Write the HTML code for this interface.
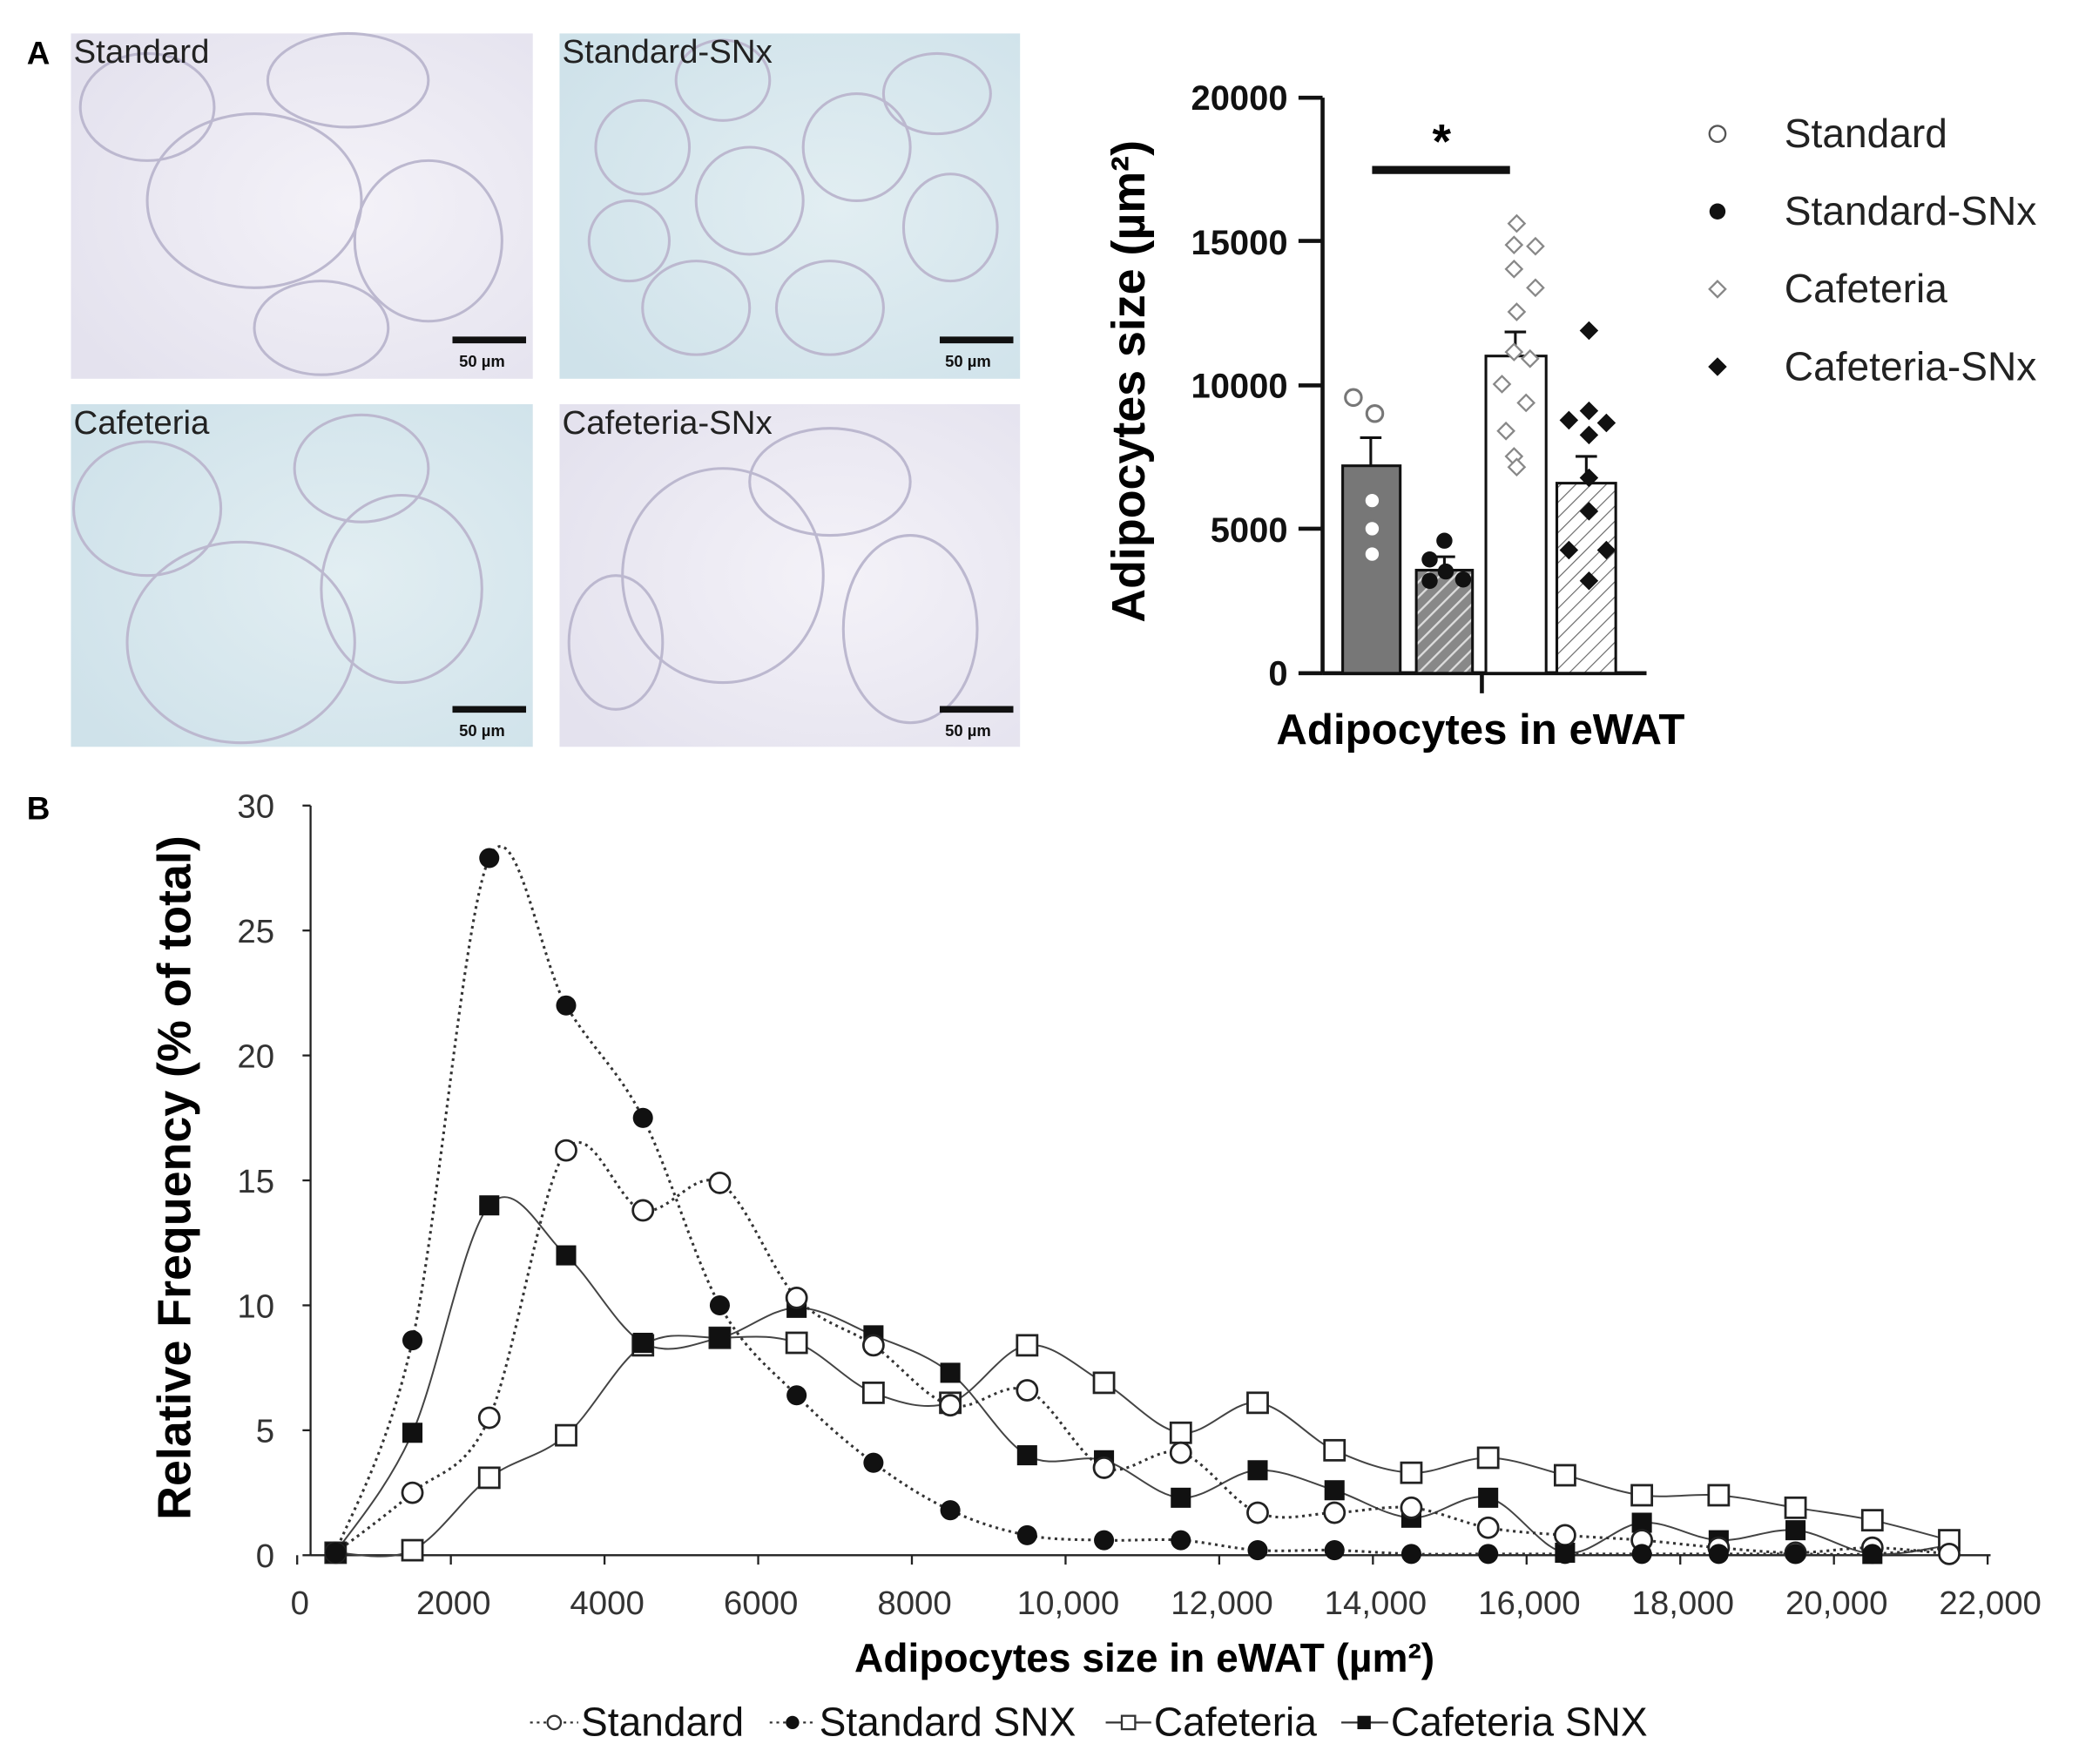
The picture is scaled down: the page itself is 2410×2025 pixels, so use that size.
<!DOCTYPE html>
<html><head><meta charset="utf-8"><style>
html,body{margin:0;padding:0;background:#fff}
svg{display:block}
text{font-family:"Liberation Sans",Arial,sans-serif}
</style></head><body>
<svg id="s" width="2410" height="2025" viewBox="0 0 1568 1318" preserveAspectRatio="none" xmlns="http://www.w3.org/2000/svg">
<defs>
<pattern id="h1" width="8" height="8" patternUnits="userSpaceOnUse" patternTransform="rotate(45)"><rect width="8" height="8" fill="#888"/><line x1="0" y1="0" x2="0" y2="8" stroke="#ddd" stroke-width="3"/></pattern>
<pattern id="h2" width="8" height="8" patternUnits="userSpaceOnUse" patternTransform="rotate(45)"><rect width="8" height="8" fill="#fff"/><line x1="0" y1="0" x2="0" y2="8" stroke="#666" stroke-width="1.5"/></pattern>
<radialGradient id="g1" cx="0.6" cy="0.5" r="0.7"><stop offset="0" stop-color="#f4f2f8"/><stop offset="1" stop-color="#e4e2ee"/></radialGradient>
<radialGradient id="g2" cx="0.6" cy="0.5" r="0.7"><stop offset="0" stop-color="#e2eef2"/><stop offset="1" stop-color="#cfe2ea"/></radialGradient>
</defs>
<rect width="1568" height="1318" fill="#fff"/>
<rect x="53" y="25" width="345" height="258" fill="url(#g1)"/>
<rect x="418" y="25" width="344" height="258" fill="url(#g2)"/>
<rect x="53" y="302" width="345" height="256" fill="url(#g2)"/>
<rect x="418" y="302" width="344" height="256" fill="url(#g1)"/>
<g fill="none" stroke="#bcb8cf" stroke-width="2">
<ellipse cx="190" cy="150" rx="80" ry="65"/><ellipse cx="320" cy="180" rx="55" ry="60"/><ellipse cx="110" cy="80" rx="50" ry="40"/><ellipse cx="260" cy="60" rx="60" ry="35"/><ellipse cx="240" cy="245" rx="50" ry="35"/>
<ellipse cx="480" cy="110" rx="35" ry="35"/><ellipse cx="560" cy="150" rx="40" ry="40"/><ellipse cx="640" cy="110" rx="40" ry="40"/><ellipse cx="710" cy="170" rx="35" ry="40"/><ellipse cx="620" cy="230" rx="40" ry="35"/><ellipse cx="520" cy="230" rx="40" ry="35"/><ellipse cx="470" cy="180" rx="30" ry="30"/><ellipse cx="540" cy="60" rx="35" ry="30"/><ellipse cx="700" cy="70" rx="40" ry="30"/>
<ellipse cx="180" cy="480" rx="85" ry="75"/><ellipse cx="300" cy="440" rx="60" ry="70"/><ellipse cx="110" cy="380" rx="55" ry="50"/><ellipse cx="270" cy="350" rx="50" ry="40"/>
<ellipse cx="540" cy="430" rx="75" ry="80"/><ellipse cx="680" cy="470" rx="50" ry="70"/><ellipse cx="620" cy="360" rx="60" ry="40"/><ellipse cx="460" cy="480" rx="35" ry="50"/>
</g>
<g font-size="25" fill="#222"><text x="55" y="47">Standard</text><text x="420" y="47">Standard-SNx</text><text x="55" y="324">Cafeteria</text><text x="420" y="324">Cafeteria-SNx</text></g>
<g stroke="#111" stroke-width="5"><line x1="338" y1="254" x2="393" y2="254"/><line x1="702" y1="254" x2="757" y2="254"/><line x1="338" y1="530" x2="393" y2="530"/><line x1="702" y1="530" x2="757" y2="530"/></g>
<g font-size="12" font-weight="bold" fill="#111"><text x="343" y="274">50 µm</text><text x="706" y="274">50 µm</text><text x="343" y="550">50 µm</text><text x="706" y="550">50 µm</text></g>
<text x="20" y="48" font-size="24" font-weight="bold">A</text>
<text x="20" y="612" font-size="24" font-weight="bold">B</text>
<g font-weight="bold" font-size="26" text-anchor="end" fill="#111">
<text x="962" y="82">20000</text><text x="962" y="190">15000</text><text x="962" y="297">10000</text><text x="962" y="405">5000</text><text x="962" y="512">0</text></g>
<g stroke="#111" stroke-width="3"><line x1="988" y1="73" x2="988" y2="503"/><line x1="988" y1="503" x2="1230" y2="503"/>
<line x1="970" y1="73" x2="988" y2="73"/><line x1="970" y1="180" x2="988" y2="180"/><line x1="970" y1="288" x2="988" y2="288"/><line x1="970" y1="395" x2="988" y2="395"/><line x1="970" y1="503" x2="988" y2="503"/><line x1="1107" y1="503" x2="1107" y2="518"/></g>
<text transform="translate(855,285) rotate(-90)" text-anchor="middle" font-size="35" font-weight="bold">Adipocytes size (µm²)</text>
<text x="1106" y="556" text-anchor="middle" font-size="32" font-weight="bold">Adipocytes in eWAT</text>
<g stroke="#111" stroke-width="2">
<rect x="1003" y="348" width="43" height="155" fill="#777"/>
<rect x="1058" y="426" width="42" height="77" fill="url(#h1)"/>
<rect x="1110" y="266" width="45" height="237" fill="#fff"/>
<rect x="1163" y="361" width="44" height="142" fill="url(#h2)"/>
<path d="M1024 348V327M1016 327H1032M1079 426V416M1071 416H1087M1132 266V248M1124 248H1140M1185 361V341M1177 341H1193" fill="none"/>
</g>
<line x1="1025" y1="127" x2="1128" y2="127" stroke="#111" stroke-width="6"/>
<text x="1077" y="118" text-anchor="middle" font-size="36" font-weight="bold">*</text>
<g fill="#fff" stroke="#777" stroke-width="2"><circle cx="1011" cy="297" r="6"/><circle cx="1027" cy="309" r="6"/><circle cx="1025" cy="374" r="6"/><circle cx="1025" cy="395" r="6"/><circle cx="1025" cy="414" r="6"/></g>
<g fill="#111"><circle cx="1079" cy="404" r="6"/><circle cx="1068" cy="418" r="6"/><circle cx="1068" cy="434" r="6"/><circle cx="1093" cy="433" r="6"/><circle cx="1080" cy="427" r="6"/></g>
<g fill="#fff" stroke="#888" stroke-width="1.5">
<path d="M1133 161l6 6-6 6-6-6z"/><path d="M1131 177l6 6-6 6-6-6z"/><path d="M1147 178l6 6-6 6-6-6z"/><path d="M1131 195l6 6-6 6-6-6z"/><path d="M1147 209l6 6-6 6-6-6z"/><path d="M1133 227l6 6-6 6-6-6z"/><path d="M1131 257l6 6-6 6-6-6z"/><path d="M1143 262l6 6-6 6-6-6z"/><path d="M1122 281l6 6-6 6-6-6z"/><path d="M1140 295l6 6-6 6-6-6z"/><path d="M1125 316l6 6-6 6-6-6z"/><path d="M1131 335l6 6-6 6-6-6z"/><path d="M1133 343l6 6-6 6-6-6z"/></g>
<g fill="#111"><path d="M1187 240l7 7-7 7-7-7z"/><path d="M1187 300l7 7-7 7-7-7z"/><path d="M1172 307l7 7-7 7-7-7z"/><path d="M1200 309l7 7-7 7-7-7z"/><path d="M1187 318l7 7-7 7-7-7z"/><path d="M1187 350l7 7-7 7-7-7z"/><path d="M1172 404l7 7-7 7-7-7z"/><path d="M1200 404l7 7-7 7-7-7z"/><path d="M1187 427l7 7-7 7-7-7z"/><path d="M1187 375l7 7-7 7-7-7z"/></g>
<g font-size="30" fill="#222"><text x="1333" y="110">Standard</text><text x="1333" y="168">Standard-SNx</text><text x="1333" y="226">Cafeteria</text><text x="1333" y="284">Cafeteria-SNx</text></g>
<circle cx="1283" cy="100" r="6" fill="#fff" stroke="#555" stroke-width="1.5"/>
<circle cx="1283" cy="158" r="6" fill="#111"/>
<path d="M1283 210l6 6-6 6-6-6z" fill="#fff" stroke="#888" stroke-width="1.5"/>
<path d="M1283 267l7 7-7 7-7-7z" fill="#111"/>
<g stroke="#222" stroke-width="1.5"><line x1="232" y1="602" x2="232" y2="1162"/><line x1="232" y1="1162" x2="1487" y2="1162"/></g>
<g font-size="25" fill="#333" text-anchor="end" id="yt"></g>
<g font-size="25" fill="#333" text-anchor="middle" id="xt"></g>
<text transform="translate(142,880) rotate(-90)" text-anchor="middle" font-size="35" font-weight="bold">Relative Frequency (% of total)</text>
<text x="855" y="1249" text-anchor="middle" font-size="30" font-weight="bold">Adipocytes size in eWAT (µm²)</text>
<g id="series"></g>
<g font-size="30" fill="#111">
<text x="434" y="1297">Standard</text><text x="612" y="1297">Standard SNX</text><text x="862" y="1297">Cafeteria</text><text x="1039" y="1297">Cafeteria SNX</text></g>
<g stroke="#333" stroke-width="1.5" fill="none"><line x1="396" y1="1287" x2="432" y2="1287" stroke-dasharray="2,3"/><line x1="575" y1="1287" x2="610" y2="1287" stroke-dasharray="2,3"/><line x1="826" y1="1287" x2="860" y2="1287"/><line x1="1002" y1="1287" x2="1037" y2="1287"/></g>
<circle cx="414" cy="1287" r="5" fill="#fff" stroke="#333" stroke-width="1.5"/>
<circle cx="592" cy="1287" r="5" fill="#111"/>
<rect x="838" y="1282" width="10" height="10" fill="#fff" stroke="#333" stroke-width="1.5"/>
<rect x="1014" y="1282" width="10" height="10" fill="#111"/>
</svg>
<script>
var NS="http://www.w3.org/2000/svg";
function el(t,a,p){var e=document.createElementNS(NS,t);for(var k in a)e.setAttribute(k,a[k]);(p||document.getElementById('series')).appendChild(e);return e;}
function X(v){return 222+v*0.0574;}function Y(v){return 1162-v*18.67;}
var yt=document.getElementById('yt');for(var i=0;i<=6;i++){var t=el('text',{x:205,y:Y(i*5)+9},yt);t.textContent=i*5;el('line',{x1:226,x2:232,y1:Y(i*5),y2:Y(i*5),stroke:'#222','stroke-width':1.5},yt);}
var xt=document.getElementById('xt');for(var i=0;i<=11;i++){var v=i*2000;var t=el('text',{x:X(v)+2,y:1206},xt);t.textContent=v>=10000?(v/1000)+',000':v;el('line',{x1:X(v),x2:X(v),y1:1162,y2:1169,stroke:'#222','stroke-width':1.5},xt);}
var S={
std:[0.1,2.5,5.5,16.2,13.8,14.9,10.3,8.4,6.0,6.6,3.5,4.1,1.7,1.7,1.9,1.1,0.8,0.6,0.3,0.1,0.3,0.05],
snx:[0.1,8.6,27.9,22,17.5,10,6.4,3.7,1.8,0.8,0.6,0.6,0.2,0.2,0.05,0.05,0.05,0.05,0.05,0.05,0.05,0.3],
caf:[0.1,0.2,3.1,4.8,8.4,8.7,8.5,6.5,6.1,8.4,6.9,4.9,6.1,4.2,3.3,3.9,3.2,2.4,2.4,1.9,1.4,0.6],
cafs:[0.1,4.9,14,12,8.5,8.7,9.9,8.8,7.3,4.0,3.8,2.3,3.4,2.6,1.5,2.3,0.1,1.3,0.6,1.0,0.05,0.4]};
function path(d){var p=d.map(function(v,i){return[X(500+1000*i),Y(v)];});var s='M'+p[0][0]+' '+p[0][1];
for(var i=0;i<p.length-1;i++){var p0=p[Math.max(0,i-1)],p1=p[i],p2=p[i+1],p3=p[Math.min(p.length-1,i+2)];
s+=' C'+(p1[0]+(p2[0]-p0[0])/6)+' '+(p1[1]+(p2[1]-p0[1])/6)+' '+(p2[0]-(p3[0]-p1[0])/6)+' '+(p2[1]-(p3[1]-p1[1])/6)+' '+p2[0]+' '+p2[1];}return s;}
el('path',{d:path(S.caf),fill:'none',stroke:'#444','stroke-width':1.3});
el('path',{d:path(S.cafs),fill:'none',stroke:'#444','stroke-width':1.3});
el('path',{d:path(S.std),fill:'none',stroke:'#333','stroke-width':2,'stroke-dasharray':'2,3'});
el('path',{d:path(S.snx),fill:'none',stroke:'#333','stroke-width':2,'stroke-dasharray':'2,3'});
S.caf.forEach(function(v,i){el('rect',{x:X(500+1000*i)-7.5,y:Y(v)-7.5,width:15,height:15,fill:'#fff',stroke:'#222','stroke-width':1.8});});
S.cafs.forEach(function(v,i){if(i==21)return;el('rect',{x:X(500+1000*i)-7.5,y:Y(v)-7.5,width:15,height:15,fill:'#111'});});
S.std.forEach(function(v,i){el('circle',{cx:X(500+1000*i),cy:Y(v),r:7.5,fill:'#fff',stroke:'#222','stroke-width':1.8});});
S.snx.forEach(function(v,i){if(i==21)return;el('circle',{cx:X(500+1000*i),cy:Y(v),r:7.5,fill:'#111'});});
</script>
</body></html>
